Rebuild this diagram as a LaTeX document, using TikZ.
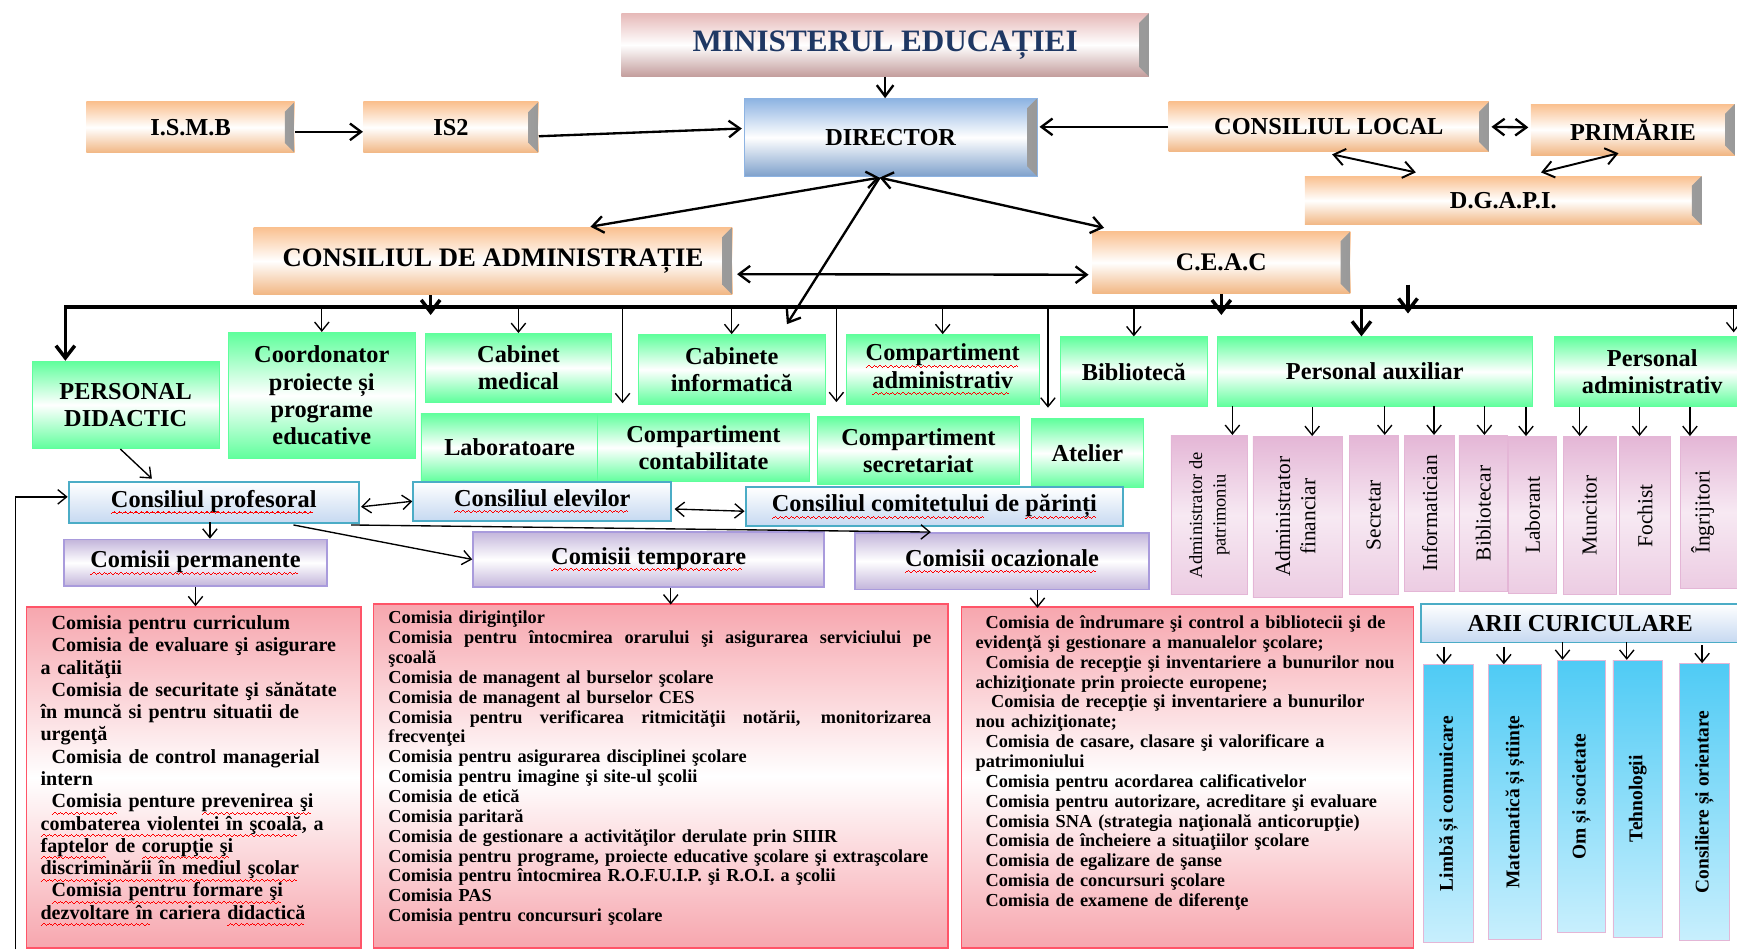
\documentclass[tikz,border=0pt]{standalone}
\usepackage{fontspec}
\setmainfont{Liberation Serif}
\usepackage{graphicx}
\usepackage{xcolor}
\usepackage{tikz}
\usetikzlibrary{positioning,calc,arrows.meta}

\definecolor{MinPink}{HTML}{E6B9B8}
\definecolor{MinText}{HTML}{1F3864}
\definecolor{DirBlue}{HTML}{8DB3E2}
\definecolor{OrgBox}{HTML}{FAC08F}
\definecolor{GreenBox}{HTML}{5FFF9C}
\definecolor{CouncilLine}{HTML}{4BACC6}
\definecolor{CouncilFill}{HTML}{C6D9F1}
\definecolor{LilacBox}{HTML}{C3B5DB}
\definecolor{LilacLine}{HTML}{A99BDC}
\definecolor{RoseBox}{HTML}{F7A6AE}
\definecolor{RoseLine}{HTML}{FF5468}
\definecolor{PinkBox}{HTML}{E4B6D6}
\definecolor{CyanBox}{HTML}{4FCBF5}
\definecolor{CyanLow}{HTML}{C8EFFD}

% sublinierea rosie ondulata (din linii mici)
\newsavebox\sqbox
\newcommand\wavepiece{\rule[-3.6pt]{0.7pt}{0.55pt}\rule[-3.1pt]{0.7pt}{0.55pt}%
  \rule[-2.6pt]{0.7pt}{0.55pt}\rule[-3.1pt]{0.7pt}{0.55pt}}
\newcommand\squig[1]{\sbox\sqbox{#1}\leavevmode\rlap{\usebox\sqbox}%
  \textcolor{red}{\hbox to \wd\sqbox{\leaders\hbox{\wavepiece}\hfil}}}
% rand aliniat stanga-dreapta
\newcommand\fullline[1]{\makebox[98mm][s]{\spaceskip=0pt\xspaceskip=0pt\relax #1}}

\tikzset{
  % cutie data prin colturi (x1,y1) (x2,y2)
  spot/.style n args={4}{at={({(#1+#3)/2},{(#2+#4)/2})},
      minimum width={(#3-#1)*0.2mm}, minimum height={(#4-#2)*0.2mm}},
  bevel/.style={path picture={
      \shade[left color=black!8, right color=black!40]
        ([xshift=-5pt,yshift=-5pt]path picture bounding box.north east)
        -- (path picture bounding box.north east)
        -- (path picture bounding box.south east)
        -- ([xshift=-5pt,yshift=5pt]path picture bounding box.south east) -- cycle;}},
  plainbox/.style={inner sep=0pt, align=center, font=\bfseries\fontsize{12.5}{14}\selectfont},
  orangebox/.style={plainbox, bevel, top color=OrgBox, bottom color=OrgBox!85!brown, middle color=white},
  minbox/.style={plainbox, bevel, top color=MinPink, bottom color=MinPink!85!black, middle color=white,
      text=MinText, font=\bfseries\fontsize{16}{18}\selectfont},
  dirbox/.style={plainbox, bevel, draw=DirBlue, top color=DirBlue, bottom color=DirBlue!90!black, middle color=white},
  greenbox/.style={plainbox, draw=GreenBox, top color=GreenBox, bottom color=GreenBox, middle color=white},
  council/.style={plainbox, draw=CouncilLine, line width=1pt, top color=white, bottom color=CouncilFill},
  lilac/.style={plainbox, draw=LilacLine, line width=0.8pt, top color=LilacBox, bottom color=LilacBox, middle color=white},
  rosebox/.style={inner sep=0pt, draw=RoseLine, line width=0.8pt, top color=RoseBox, bottom color=RoseBox, middle color=white},
  listtxt/.style={inner sep=0pt, align=left, font=\bfseries\fontsize{9.4}{10.2}\selectfont},
  pinkbox/.style={inner sep=0pt, draw=PinkBox, top color=PinkBox, bottom color=PinkBox!70, middle color=PinkBox!30,
      font=\fontsize{11}{13}\selectfont},
  cyanbox/.style={inner sep=0pt, draw=PinkBox, top color=CyanBox, bottom color=CyanLow,
      font=\bfseries\fontsize{10}{12}\selectfont},
  toparrow/.style={-{Straight Barb[length=2mm,width=3mm]}, line width=1.2pt},
  twoway/.style={{Straight Barb[length=2mm,width=3mm]}-{Straight Barb[length=2mm,width=3mm]}, line width=1.2pt},
  bigarrow/.style={-{Straight Barb[length=2.2mm,width=3.4mm]}, line width=1.8pt},
  thinarrow/.style={-{Straight Barb[length=1.6mm,width=2.6mm]}, line width=0.7pt},
  twothin/.style={{Straight Barb[length=1.6mm,width=2.6mm]}-{Straight Barb[length=1.6mm,width=2.6mm]}, line width=0.7pt}
}

\begin{document}
\begin{tikzpicture}[x=0.2mm, y=-0.2mm]
\useasboundingbox (0,0) rectangle (1568,857);
\clip (0,0) rectangle (1568,857);

% nivelul de sus
\node[minbox, spot={561}{12}{1037}{69}] (min) {MINISTERUL EDUCAȚIEI};
\node[dirbox, spot={672}{89}{936}{159}] (dir) {DIRECTOR};
\node[orangebox, spot={78}{92}{266}{138}] (ismb) {I.S.M.B};
\node[orangebox, spot={328}{92}{486}{138}] (is2) {IS2};
\node[orangebox, spot={1055}{92}{1344}{137}] (cl) {CONSILIUL LOCAL};
\node[orangebox, spot={1382}{94}{1566}{140}] (prim) {PRIMĂRIE};
\node[orangebox, spot={1178}{159}{1536}{203}] (dgapi) {D.G.A.P.I.};
\node[orangebox, font=\bfseries\fontsize{13.7}{15}\selectfont, spot={229}{205}{661}{266}] (cda) {CONSILIUL DE ADMINISTRAȚIE};
\node[orangebox, font=\bfseries\fontsize{13}{15}\selectfont, spot={986}{209}{1219}{265}] (ceac) {C.E.A.C};

% compartimente
\node[greenbox, spot={29}{326}{198}{405}] (pd) {PERSONAL\\DIDACTIC};
\node[greenbox, spot={206}{300}{375}{414}] (coord) {Coordonator\\proiecte și\\programe\\educative};
\node[greenbox, spot={384}{301}{552}{363}] (cmed) {Cabinet\\medical};
\node[greenbox, spot={380}{373}{540}{435}] (lab) {Laboratoare};
\node[greenbox, spot={539}{373}{731}{435}] (ccont) {Compartiment\\contabilitate};
\node[greenbox, spot={576}{302}{745}{365}] (cinf) {Cabinete\\informatică};
\node[greenbox, spot={764}{302}{938}{365}] (cadm) {\squig{Compartiment}\\\squig{administrativ}};
\node[greenbox, spot={738}{376}{920}{437}] (csec) {Compartiment\\secretariat};
\node[greenbox, spot={931}{378}{1032}{440}] (atel) {Atelier};
\node[greenbox, spot={957}{304}{1090}{367}] (bib) {Bibliotecă};
\node[greenbox, spot={1099}{304}{1383}{367}] (paux) {Personal auxiliar};
\node[greenbox, spot={1403}{304}{1580}{367}] (padm) {Personal\\administrativ};

\coordinate (dirfoot) at ($(dir.south)+(-10,1)$);
\draw[toparrow] (min.south) -- (min.south |- dir.north);
\draw[toparrow] ($(ismb.east)+(0,4)$) -- ($(is2.west)+(0,4)$);
\draw[toparrow] ($(is2.east)+(0,8)$) -- ($(dir.west)+(-2,-8)$);
\draw[toparrow] (cl.west) -- ($(cl.west -| dir.east)+(2,0)$);
\draw[twoway] ($(cl.east)+(2,0)$) -- ($(prim.west)+(-2,-2)$);
\draw[twoway, line width=1pt] ($(cl.south)+(3,2)$) -- ($(dgapi.north west)!0.28!(dgapi.north east)+(0,-3)$);
\draw[twoway, line width=1pt] ($(prim.south)+(-13,-2)$) -- ($(dgapi.north west)!0.595!(dgapi.north east)+(0,-3)$);
\draw[twoway] (dirfoot) -- ($(cda.north)+(88,0)$);
\draw[twoway] (dirfoot) -- ($(ceac.north west)+(11,-3)$);
\draw[twoway] ($(cda.east)+(4,12)$) -- ($(ceac.west)+(-3,11)$);
\draw[toparrow] (dirfoot) -- ($(cinf.north east)+(-35,-9)$);

% magistrala
\coordinate (busL) at (59,277);
\coordinate (busR) at (1568,277);
\coordinate (lone) at (1271,257);
\coordinate (dropA) at (562,364);
\coordinate (dropB) at (755,363);
\coordinate (dropC) at (946,368);
\coordinate (dropE) at (1565,300);

\draw[bigarrow] (busR) -- (busL) -- (busL |- pd.north);
\draw[bigarrow] ($(cda.south west)!0.37!(cda.south east)$) -- ++(0,18);
\draw[bigarrow] (ceac.south) -- ++(0,19);
\draw[bigarrow] (lone) -- ++(0,26);
\foreach \n in {coord, cmed, cinf, cadm, bib}
  \draw[thinarrow] (busL -| \n.north) -- (\n.north);
\foreach \n in {dropA, dropB, dropC, dropE}
  \draw[thinarrow] (busL -| \n) -- (\n);
\draw[bigarrow] ($(busL -| paux.north)+(-12,0)$) -- ($(paux.north)+(-12,0)$);

% personal auxiliar si administrativ
\node[pinkbox, spot={1057}{393}{1126}{537}] (ap) {\rotatebox{90}{\fontsize{9.5}{12}\selectfont\begin{tabular}{@{}c@{}}Administrator de\\patrimoniu\end{tabular}}};
\node[pinkbox, spot={1131}{394}{1212}{539}] (af) {\rotatebox{90}{\begin{tabular}{@{}c@{}}Administrator\\financiar\end{tabular}}};
\node[pinkbox, spot={1218}{393}{1262}{537}] (sec) {\rotatebox{90}{Secretar}};
\node[pinkbox, spot={1268}{393}{1313}{534}] (inf) {\rotatebox{90}{Informatician}};
\node[pinkbox, spot={1317}{393}{1361}{534}] (bbl) {\rotatebox{90}{Bibliotecar}};
\node[pinkbox, spot={1362}{394}{1405}{536}] (labt) {\rotatebox{90}{Laborant}};
\node[pinkbox, spot={1411}{394}{1459}{537}] (mun) {\rotatebox{90}{Muncitor}};
\node[pinkbox, spot={1462}{394}{1508}{537}] (foc) {\rotatebox{90}{Fochist}};
\node[pinkbox, spot={1517}{394}{1572}{531}] (ing) {\rotatebox{90}{Îngrijitori}\hspace*{3mm}};
\foreach \n/\dx in {ap/21, af/13, sec/10, inf/4, bbl/1, labt/-6, mun/-9, foc/-5, ing/-19}
  \draw[thinarrow] ($(\n.north)+(\dx,-26)$) -- ($(\n.north)+(\dx,0)$);

% consilii
\node[council, spot={62}{435}{324}{472}] (cprof) {\squig{Consiliul profesoral}};
\node[council, spot={373}{435}{606}{470}] (celev) {\squig{Consiliul elevilor}};
\node[council, spot={673}{440}{1014}{475}] (cpar) {\squig{Consiliul comitetului} de \squig{părinți}};
\coordinate (leftfoot) at (14,857);
\draw[thinarrow] ($(pd.south west)+(80,0)$) -- ($(cprof.north west)+(76,-2)$);
\draw[thinarrow] (leftfoot) |- ($(cprof.west)+(0,-5)$);
\draw[twothin] ($(cprof.east)+(1,4)$) -- (celev.west);
\draw[twothin] ($(celev.east)+(2,7)$) -- ($(cpar.west)+(0,4)$);

% comisii
\node[lilac, spot={58}{487}{295}{529}] (cperm) {\squig{Comisii permanente}};
\node[lilac, spot={427}{480}{744}{530}] (ctemp) {\squig{Comisii temporare}};
\node[lilac, spot={772}{481}{1037}{532}] (cocaz) {\squig{Comisii ocazionale}};
\draw[thinarrow] ($(cperm.north)+(13,-15)$) -- ($(cperm.north)+(13,0)$);
\draw[thinarrow] ($(cprof.south east)+(-60,1)$) -- (ctemp.west);
\draw[thinarrow] ($(cprof.south east)+(-8,1)$) -- ($(cocaz.north west)+(69,0)$);

% liste de comisii
\node[rosebox, spot={24}{548}{326}{856}] (b1) {};
\node[rosebox, spot={337}{545}{856}{856}] (b2) {};
\node[rosebox, spot={868}{548}{1276}{856}] (b3) {};
\draw[thinarrow] (cperm.south) -- (cperm.south |- b1.north);
\draw[thinarrow] ($(ctemp.south)+(20,0)$) -- ++(0,15);
\draw[thinarrow] ($(cocaz.south)+(32,0)$) -- ++(0,16);

\node[listtxt, font=\bfseries\fontsize{10.3}{11.45}\selectfont, text width=60mm, anchor=north west] (b1t) at ($(b1.north west)+(13,8)$) {
  \hspace*{2mm}Comisia pentru curriculum\\
  \hspace*{2mm}Comisia de evaluare şi asigurare\\
  a calităţii\\
  \hspace*{2mm}Comisia de securitate şi sănătate\\
  în muncă si pentru situatii de\\
  urgenţă\\
  \hspace*{2mm}Comisia de control managerial\\
  intern\\
  \hspace*{2mm}\squig{Comisia} penture \squig{prevenirea şi}\\
  \squig{combaterea violentei în şcoală}, a\\
  \squig{faptelor} de \squig{corupţie şi}\\
  \squig{discriminării în mediul şcolar}\\
  \hspace*{2mm}\squig{Comisia pentru formare şi}\\
  \squig{dezvoltare în} cariera \squig{didactică}};

\node[listtxt, text width=98mm, anchor=north west] (b2t) at ($(b2.north west)+(14,7)$) {
  Comisia diriginţilor\\
  \fullline{Comisia pentru întocmirea orarului şi asigurarea serviciului pe}\\
  şcoală\\
  Comisia de managent al burselor şcolare\\
  Comisia de managent al burselor CES\\
  \fullline{Comisia pentru verificarea ritmicităţii notării, monitorizarea}\\
  frecvenţei\\
  Comisia pentru asigurarea disciplinei şcolare\\
  Comisia pentru imagine şi site-ul şcolii\\
  Comisia de etică\\
  Comisia paritară\\
  Comisia de gestionare a activităţilor derulate prin SIIIR\\
  Comisia pentru programe, proiecte educative şcolare şi extraşcolare\\
  Comisia pentru întocmirea R.O.F.U.I.P. şi R.O.I. a şcolii\\
  Comisia PAS\\
  Comisia pentru concursuri şcolare};

\node[listtxt, text width=78mm, anchor=north west] (b3t) at ($(b3.north west)+(13,8)$) {
  \hspace*{1.8mm}Comisia de îndrumare şi control a bibliotecii şi de\\
  evidenţă şi gestionare a manualelor şcolare;\\
  \hspace*{1.8mm}Comisia de recepţie şi inventariere a bunurilor nou\\
  achiziţionate prin proiecte europene;\\
  \hspace*{2.8mm}Comisia de recepţie şi inventariere a bunurilor\\
  nou achiziţionate;\\
  \hspace*{1.8mm}Comisia de casare, clasare şi valorificare a\\
  patrimoniului\\
  \hspace*{1.8mm}Comisia pentru acordarea calificativelor\\
  \hspace*{1.8mm}Comisia pentru autorizare, acreditare şi evaluare\\
  \hspace*{1.8mm}Comisia SNA (strategia naţională anticorupţie)\\
  \hspace*{1.8mm}Comisia de încheiere a situaţiilor şcolare\\
  \hspace*{1.8mm}Comisia de egalizare de şanse\\
  \hspace*{1.8mm}Comisia de concursuri şcolare\\
  \hspace*{1.8mm}Comisia de examene de diferenţe};

% arii curriculare
\node[council, font=\bfseries\fontsize{12.5}{14}\selectfont, spot={1283}{545}{1570}{580}] (arii) {ARII CURICULARE};
\node[cyanbox, spot={1285}{600}{1330}{851}] (lc) {\rotatebox{90}{Limbă și comunicare}};
\node[cyanbox, spot={1344}{600}{1391}{848}] (ms) {\rotatebox{90}{Matematică și științe}};
\node[cyanbox, spot={1406}{596}{1449}{842}] (os) {\rotatebox{90}{Om și societate}};
\node[cyanbox, spot={1456}{596}{1501}{846}] (teh) {\rotatebox{90}{Tehnologii}};
\node[cyanbox, spot={1516}{599}{1561}{849}] (co) {\rotatebox{90}{Consiliere și orientare}};
\foreach \n/\dx in {lc/-4, ms/-10, os/-17, teh/-10, co/-2}
  \draw[thinarrow] ($(\n.north)+(\dx,-16)$) -- ($(\n.north)+(\dx,0)$);
\end{tikzpicture}
\end{document}
